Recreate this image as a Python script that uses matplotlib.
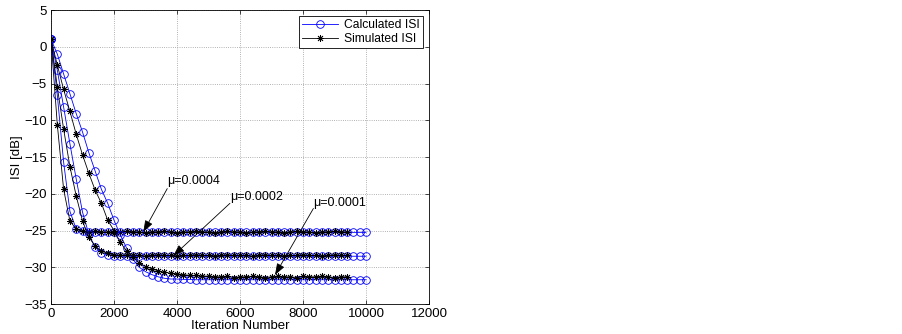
import matplotlib
matplotlib.use("Agg")
import matplotlib.pyplot as plt
import numpy as np

plt.rcParams["font.family"] = ["Liberation Sans", "DejaVu Sans"]

# iteration grid (one marker every 200 iterations)
iter_calc = np.arange(0, 10001, 200)
iter_sim = np.arange(0, 9401, 200)

# mu = 0.0004
calc_04 = [1.0, -6.6, -15.7, -22.4, -24.8, -25.1,
           -25.25, -25.25, -25.25, -25.25, -25.25, -25.25, -25.25, -25.25, -25.25,
           -25.25, -25.25, -25.25, -25.25, -25.25, -25.25, -25.25, -25.25, -25.25,
           -25.25, -25.25, -25.25, -25.25, -25.25, -25.25, -25.25, -25.25, -25.25,
           -25.25, -25.25, -25.25, -25.25, -25.25, -25.25, -25.25, -25.25, -25.25,
           -25.25, -25.25, -25.25, -25.25, -25.25, -25.25, -25.25, -25.25, -25.25]
sim_04 = [1.0, -10.6, -19.4, -23.7, -24.8, -25.1,
          -25.2, -25.1, -25.2, -25.2, -25.3, -25.2, -25.1, -25.2, -25.2,
          -25.3, -25.2, -25.2, -25.1, -25.2, -25.3, -25.2, -25.2, -25.1,
          -25.2, -25.2, -25.3, -25.2, -25.1, -25.2, -25.2, -25.3, -25.2,
          -25.2, -25.1, -25.2, -25.2, -25.3, -25.2, -25.1, -25.2, -25.2,
          -25.3, -25.2, -25.2, -25.1, -25.2, -25.2]

# mu = 0.0002
calc_02 = [1.0, -3.2, -8.2, -13.2, -18.0, -22.5, -25.5, -27.3, -28.0, -28.3, -28.45,
           -28.5, -28.5, -28.5, -28.5, -28.5, -28.5, -28.5, -28.5, -28.5, -28.5,
           -28.5, -28.5, -28.5, -28.5, -28.5, -28.5, -28.5, -28.5, -28.5, -28.5,
           -28.5, -28.5, -28.5, -28.5, -28.5, -28.5, -28.5, -28.5, -28.5, -28.5,
           -28.5, -28.5, -28.5, -28.5, -28.5, -28.5, -28.5, -28.5, -28.5, -28.5]
sim_02 = [1.0, -5.5, -11.2, -16.3, -20.3, -23.7, -25.9, -27.1, -27.8, -28.1, -28.3,
          -28.4, -28.3, -28.4, -28.4, -28.5, -28.4, -28.3, -28.4, -28.4, -28.5,
          -28.4, -28.4, -28.3, -28.4, -28.4, -28.5, -28.4, -28.3, -28.4, -28.4,
          -28.4, -28.5, -28.4, -28.3, -28.4, -28.4, -28.5, -28.4, -28.4, -28.3,
          -28.4, -28.4, -28.5, -28.4, -28.3, -28.4, -28.4]

# mu = 0.0001
calc_01 = [1.0, -1.0, -3.7, -6.4, -9.1, -11.6, -14.4, -16.9, -19.4, -21.3, -23.6,
           -25.6, -27.4, -28.9, -30.0, -30.6, -31.0, -31.3, -31.5, -31.6, -31.6,
           -31.65, -31.65, -31.7, -31.7, -31.7, -31.7, -31.7, -31.7, -31.7, -31.7,
           -31.7, -31.7, -31.7, -31.7, -31.7, -31.7, -31.7, -31.7, -31.7, -31.7,
           -31.7, -31.7, -31.7, -31.7, -31.7, -31.7, -31.7, -31.7, -31.7, -31.7]
sim_01 = [1.0, -2.5, -5.8, -8.8, -11.9, -14.7, -17.2, -19.5, -21.3, -23.6, -25.0,
          -26.6, -27.8, -28.6, -29.4, -29.9, -30.2, -30.5, -30.7, -30.8, -30.9,
          -31.0, -31.1, -31.1, -31.2,
          -31.2, -31.3, -31.3, -31.2, -31.4, -31.3, -31.3, -31.2, -31.3, -31.4,
          -31.3, -31.2, -31.3, -31.3, -31.4, -31.2, -31.3, -31.3, -31.2, -31.3,
          -31.4, -31.3, -31.3]

labels = ["\u03bc=0.0004", "\u03bc=0.0002", "\u03bc=0.0001"]

fig = plt.figure(figsize=(9.03, 3.34), dpi=100)
ax = fig.add_axes([0.0565, 0.0898, 0.4186, 0.8802])

asterisk = (8, 2, 0)
first = True
for c, s in [(calc_04, sim_04), (calc_02, sim_02), (calc_01, sim_01)]:
    ax.plot(iter_calc, c, color="blue", lw=0.6, marker="o", ms=5.5,
            mfc="none", mec="blue", mew=0.6,
            label="Calculated ISI" if first else None)
    ax.plot(iter_sim, s, color="black", lw=0.6, marker=asterisk, ms=5,
            mew=0.6, label="Simulated ISI" if first else None)
    first = False

# annotations: text + arrow
ann = [(labels[0], (3690, -18.3), (3690, -19.3), (2930, -25.2)),
       (labels[1], (5680, -20.4), (5680, -21.3), (3880, -28.45)),
       (labels[2], (8330, -21.2), (8330, -22.0), (7110, -31.05))]
for txt, tpos, tail, head in ann:
    ax.text(tpos[0], tpos[1], txt, fontsize=9, ha="left", va="center")
    ax.annotate("", xy=head, xytext=tail,
                arrowprops=dict(arrowstyle="-|>,head_length=0.7,head_width=0.25",
                                color="black", lw=0.6, shrinkA=0, shrinkB=0))

ax.set_xlim(0, 12000)
ax.set_ylim(-35, 5)
ax.set_xticks(np.arange(0, 12001, 2000))
ax.set_yticks(np.arange(-35, 6, 5))
ax.tick_params(direction="in", length=3, width=0.5, labelsize=9.5,
               top=True, right=True, pad=3)
ax.grid(True, linestyle=":", color="0.6", lw=0.6)
for sp in ax.spines.values():
    sp.set_linewidth(0.6)

ax.set_xlabel("Iteration Number", fontsize=9.5, labelpad=0)
ax.set_ylabel("ISI [dB]", fontsize=9.5, labelpad=1)

leg = ax.legend(loc="upper right", fontsize=8.7, frameon=True, fancybox=False,
                edgecolor="black", framealpha=1, borderaxespad=0.5,
                handlelength=3, borderpad=0.25, labelspacing=0.15,
                handletextpad=0.5)
leg.get_frame().set_linewidth(0.6)

fig.savefig("out.png", dpi=100)
